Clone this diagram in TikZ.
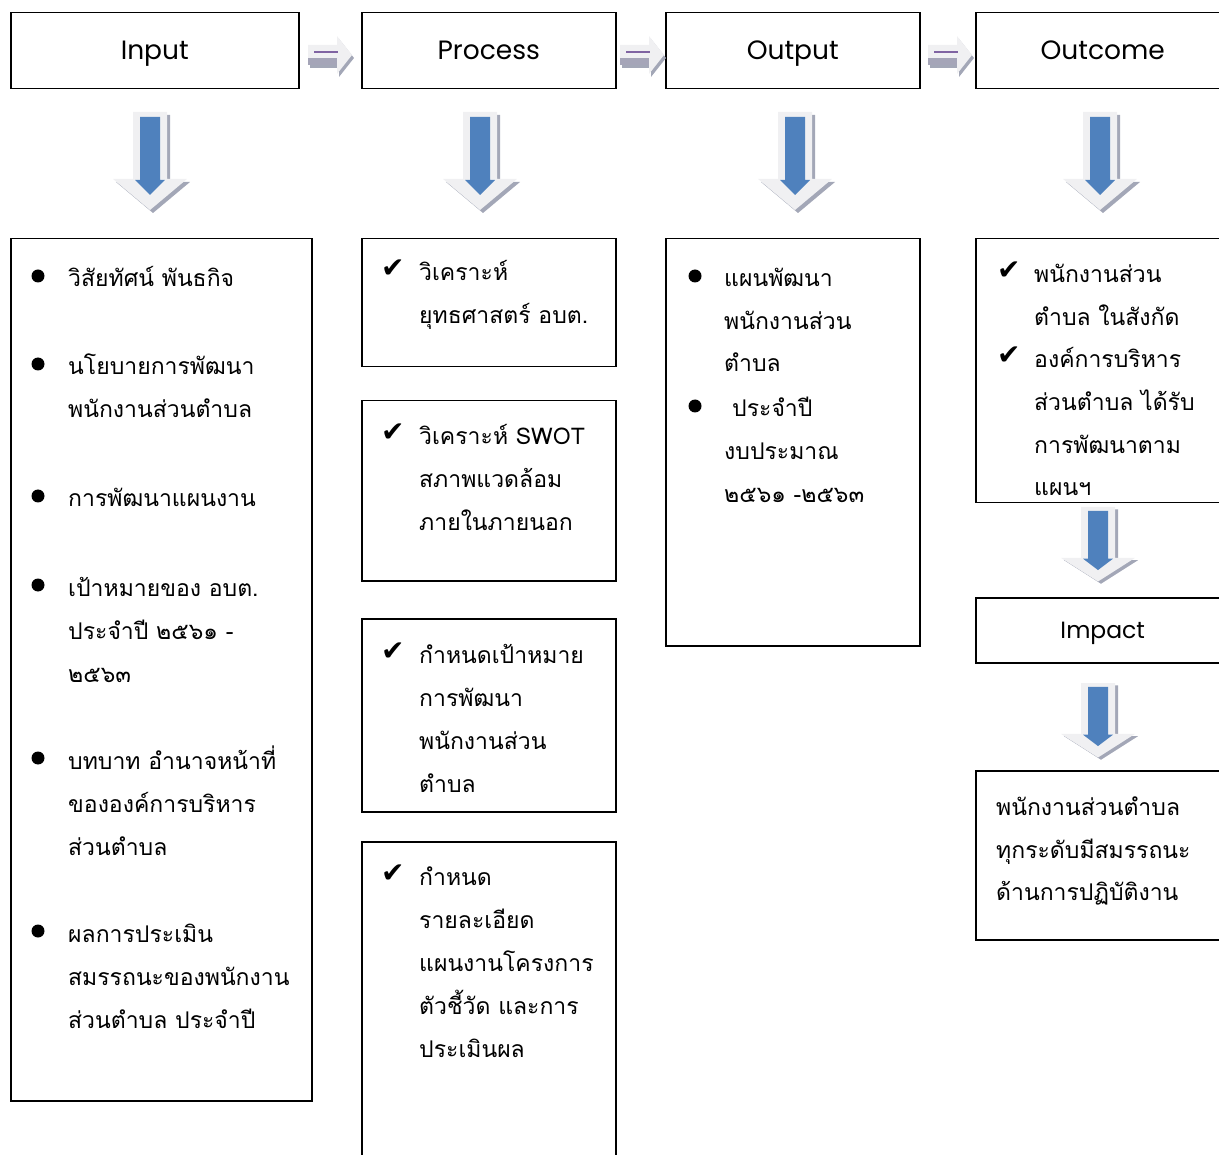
\documentclass[tikz,border=0pt]{standalone}
\usepackage{fontspec}
\newfontfamily\thaif[Script=Thai]{Loma}
\newfontfamily\titlef{Poppins}
\newfontfamily\symf{DejaVu Sans}
\definecolor{arrblue}{HTML}{4F81BD}
\definecolor{arrlight}{HTML}{F0F0F2}
\definecolor{arrshd}{HTML}{A3A7B7}
\definecolor{arrband}{HTML}{A5A5B8}
\definecolor{arrpurple}{HTML}{8064A2}
\tikzset{
  box/.style={draw=black, line width=1.5pt, rectangle, anchor=north west, inner sep=0pt},
  ttl/.style={font=\titlef\fontsize{26.5}{30}\selectfont, text height=21pt, text depth=3pt},
  txt/.style={font=\thaif\fontsize{23}{27}\selectfont, anchor=base west, inner sep=0pt},
  chk/.style={font=\symf\fontsize{28}{30}\selectfont, anchor=base west, inner sep=0pt},
  bul/.style={circle, fill=black, minimum size=13pt, inner sep=0pt},
  downarr/.pic={
    \fill[arrshd] (-14,3) -- (20,3) -- (20,70) -- (40,70) -- (3,101) -- (-34,70) -- (-14,70) -- cycle;
    \fill[arrlight] (-17,0) -- (17,0) -- (17,67) -- (37,67) -- (0,98) -- (-37,67) -- (-17,67) -- cycle;
    \fill[arrblue] (-10,5) -- (10,5) -- (10,68) -- (15,68) -- (0,83) -- (-15,68) -- (-10,68) -- cycle;
  },
  rightarr/.pic={
    \fill[arrshd] (2,-7) -- (31,-7) -- (31,-16) -- (46,3) -- (31,22) -- (31,13) -- (2,13) -- cycle;
    \fill[arrlight] (0,-10) -- (29,-10) -- (29,-19) -- (44,0) -- (29,19) -- (29,10) -- (0,10) -- cycle;
    \fill[arrband] (0,3) rectangle (29,10);
    \draw[arrpurple, line width=1.2pt] (6,-3) -- (30,-3);
  }
}
\begin{document}
\begin{tikzpicture}[x=1pt,y=-1pt]
\useasboundingbox (0,0) rectangle (1219,1155);
\clip (0,0) rectangle (1219,1155);

% title row
\node[box, ttl, minimum width=288pt, minimum height=76pt] (inp) at (10,12) {Input};
\node[box, ttl, minimum width=254pt, minimum height=76pt] (proc) at (361,12) {Process};
\node[box, ttl, minimum width=254pt, minimum height=76pt] (outp) at (665,12) {Output};
\node[box, ttl, minimum width=254pt, minimum height=76pt] (outc) at (975,12) {Outcome};

\pic at (308,55) {rightarr};
\pic at (620,55) {rightarr};
\pic at (928,55) {rightarr};

\pic at (150,112) {downarr};
\pic at (480,112) {downarr};
\pic at (795,112) {downarr};
\pic at (1100,112) {downarr};

% lower boxes
\node[box, minimum width=301pt, minimum height=862pt] (inlist) at (10,238) {};
\node[box, minimum width=254pt, minimum height=128pt] (p1) at (361,238) {};
\node[box, minimum width=254pt, minimum height=180pt] (p2) at (361,400) {};
\node[box, minimum width=254pt, minimum height=193pt] (p3) at (361,618) {};
\node[box, minimum width=254pt, minimum height=330pt] (p4) at (361,841) {};
\node[box, minimum width=254pt, minimum height=407pt] (olist) at (665,238) {};
\node[box, minimum width=254pt, minimum height=264pt] (oc) at (975,238) {};
\node[box, ttl, font=\titlef\fontsize{23.5}{27}\selectfont, text height=19pt, text depth=3pt, minimum width=254pt, minimum height=65pt] (imp) at (975,597) {Impact};
\node[box, minimum width=254pt, minimum height=169pt] (fin) at (975,770) {};

\pic[yscale=0.76] at (1098,507) {downarr};
\pic[yscale=0.76] at (1098,683) {downarr};

% Input list
\node[bul] (ib1) at (38,276) {};
\node[txt] (i1) at (68,287) {วิสัยทัศน์ พันธกิจ};
\node[bul] (ib2) at (38,364) {};
\node[txt] (i2) at (68,375) {นโยบายการพัฒนา};
\node[txt] (i3) at (68,418) {พนักงานส่วนตำบล};
\node[bul] (ib3) at (38,496) {};
\node[txt] (i4) at (68,507) {การพัฒนาแผนงาน};
\node[bul] (ib4) at (38,585) {};
\node[txt] (i5) at (68,596) {เป้าหมายของ อบต.};
\node[txt] (i6) at (68,639) {ประจำปี ๒๕๖๑ -};
\node[txt] (i7) at (68,682) {๒๕๖๓};
\node[bul] (ib5) at (38,758) {};
\node[txt] (i8) at (68,769) {บทบาท อำนาจหน้าที่};
\node[txt] (i9) at (68,812) {ขององค์การบริหาร};
\node[txt] (i10) at (68,855) {ส่วนตำบล};
\node[bul] (ib6) at (38,931) {};
\node[txt] (i11) at (68,942) {ผลการประเมิน};
\node[txt] (i12) at (68,985) {สมรรถนะของพนักงาน};
\node[txt] (i13) at (68,1028) {ส่วนตำบล ประจำปี};

% Process boxes
\node[chk] (pc1) at (381,278) {✔};
\node[txt] (p1a) at (419,281) {วิเคราะห์};
\node[txt] (p1b) at (419,324) {ยุทธศาสตร์ อบต.};
\node[chk] (pc2) at (381,442) {✔};
\node[txt] (p2a) at (419,445) {วิเคราะห์ SWOT};
\node[txt] (p2b) at (419,488) {สภาพแวดล้อม};
\node[txt] (p2c) at (419,531) {ภายในภายนอก};
\node[chk] (pc3) at (381,660) {✔};
\node[txt] (p3a) at (419,663) {กำหนดเป้าหมาย};
\node[txt] (p3b) at (419,706) {การพัฒนา};
\node[txt] (p3c) at (419,749) {พนักงานส่วน};
\node[txt] (p3d) at (419,792) {ตำบล};
\node[chk] (pc4) at (381,882) {✔};
\node[txt] (p4a) at (419,885) {กำหนด};
\node[txt] (p4b) at (419,928) {รายละเอียด};
\node[txt] (p4c) at (419,971) {แผนงานโครงการ};
\node[txt] (p4d) at (419,1014) {ตัวชี้วัด และการ};
\node[txt] (p4e) at (419,1057) {ประเมินผล};

% Output list
\node[bul] (ob1) at (695,276) {};
\node[txt] (o1) at (724,287) {แผนพัฒนา};
\node[txt] (o2) at (724,330) {พนักงานส่วน};
\node[txt] (o3) at (724,372) {ตำบล};
\node[bul] (ob2) at (695,406) {};
\node[txt] (o4) at (732,417) {ประจำปี};
\node[txt] (o5) at (724,460) {งบประมาณ};
\node[txt] (o6) at (724,503) {๒๕๖๑ -๒๕๖๓};

% Outcome
\node[chk] (oc1) at (997,280) {✔};
\node[txt] (oca) at (1034,283) {พนักงานส่วน};
\node[txt] (ocb) at (1034,326) {ตำบล ในสังกัด};
\node[chk] (oc2) at (997,365) {✔};
\node[txt] (occ) at (1034,368) {องค์การบริหาร};
\node[txt] (ocd) at (1034,411) {ส่วนตำบล ได้รับ};
\node[txt] (oce) at (1034,454) {การพัฒนาตาม};
\begin{scope}
\clip (975,238) rectangle (1229,501);
\node[txt] (ocf) at (1034,496) {แผนฯ};
\end{scope}

% Final
\node[txt] (f1) at (996,815) {พนักงานส่วนตำบล};
\node[txt] (f2) at (996,858) {ทุกระดับมีสมรรถนะ};
\node[txt] (f3) at (996,900) {ด้านการปฏิบัติงาน};
\end{tikzpicture}
\end{document}
